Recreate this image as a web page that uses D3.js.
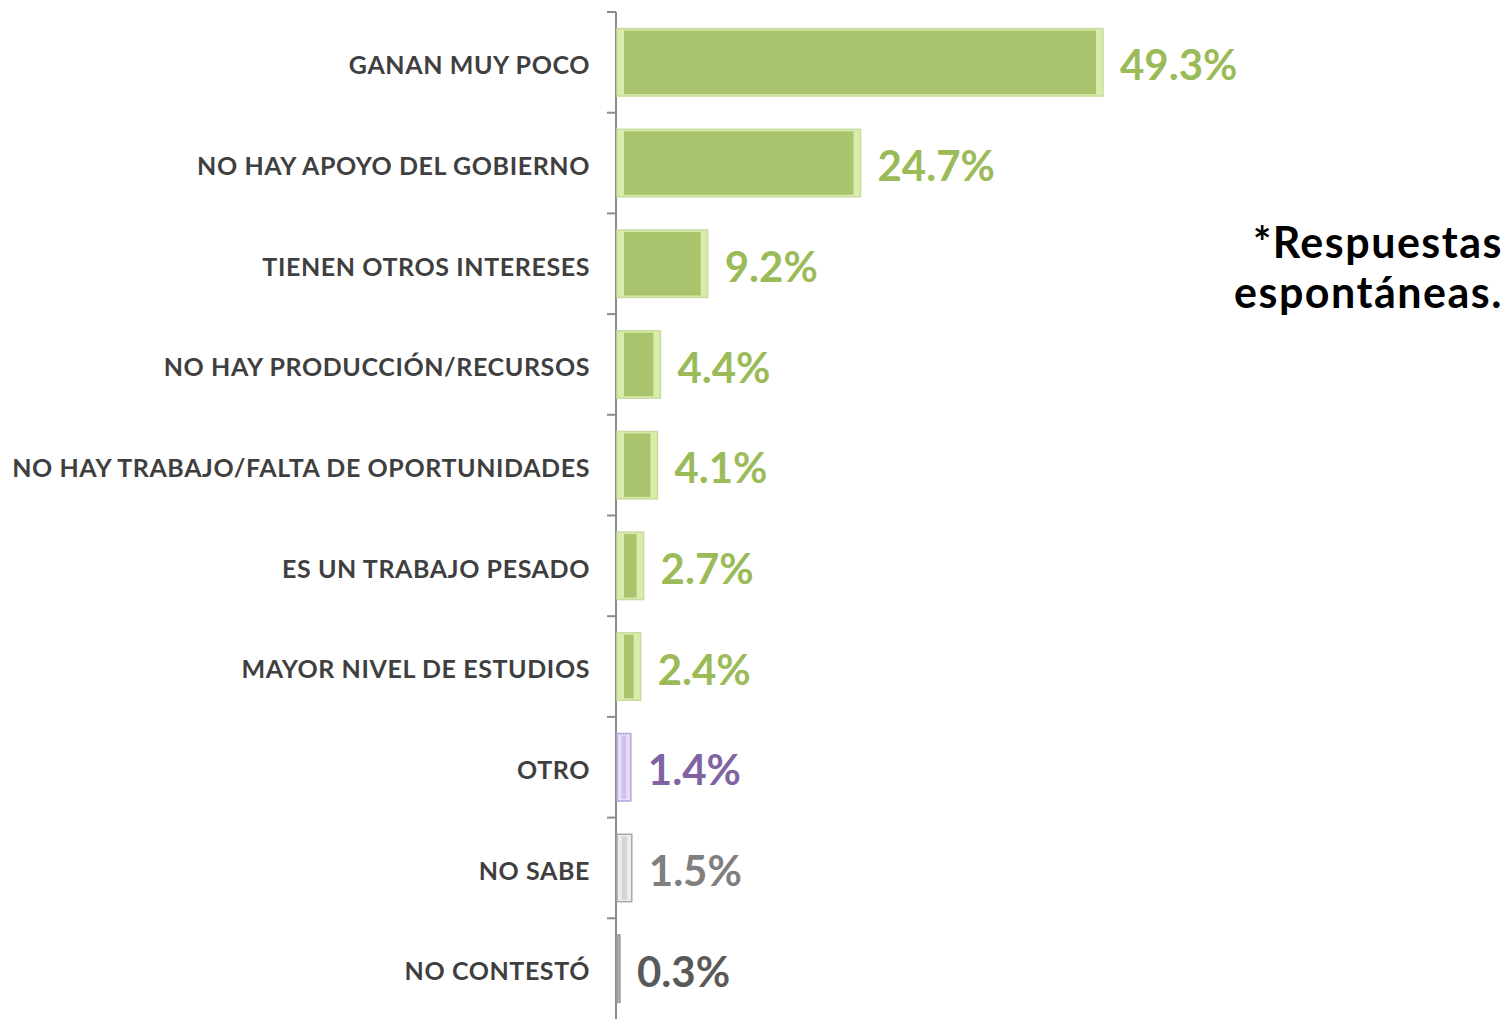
<!DOCTYPE html>
<html>
<head>
<meta charset="utf-8">
<script src="https://cdn.jsdelivr.net/npm/d3@7"></script>
<style>
  body { margin: 0; background: #fff; }
  .cat-label { font-family: Lato, "DejaVu Sans", sans-serif; font-weight: bold; fill: #3f3f3f; }
  .val-label { font-family: Lato, "DejaVu Sans", sans-serif; font-weight: bold; }
</style>
</head>
<body>
<script>
// chart data
var categories = ["GANAN MUY POCO", "NO HAY APOYO DEL GOBIERNO", "TIENEN OTROS INTERESES",
  "NO HAY PRODUCCIÓN/RECURSOS", "NO HAY TRABAJO/FALTA DE OPORTUNIDADES", "ES UN TRABAJO PESADO",
  "MAYOR NIVEL DE ESTUDIOS", "OTRO", "NO SABE", "NO CONTESTÓ"];
var values = [49.3, 24.7, 9.2, 4.4, 4.1, 2.7, 2.4, 1.4, 1.5, 0.3];
var groups = ["verde", "verde", "verde", "verde", "verde", "verde", "verde", "morado", "gris", "oscuro"];

var svgWidth = 1508;
var svgHeight = 1019;
var axisX = 616;

var palette = {
  verde:  { fill: "#a9c46c", edge: "#d9ecaa", stroke: "#c9dba0", text: "#9bbb59" },
  morado: { fill: "#cfc1ee", edge: "#e6ddfa", stroke: "#b6a4d8", text: "#8064a2" },
  gris:   { fill: "#d4d4d4", edge: "#ececec", stroke: "#a8a8a8", text: "#7f7f7f" },
  oscuro: { fill: "#a6a6a6", edge: "#bdbdbd", stroke: "#9a9a9a", text: "#595959" }
};

var svg = d3.select("body")
  .append("svg")
  .attr("width", svgWidth)
  .attr("height", svgHeight);

// scales
var x = d3.scaleLinear().domain([0, 49.3]).range([axisX, 1102]);
var y = d3.scaleBand().domain(categories).range([12, 1019]).paddingInner(0.33).paddingOuter(0.165);

// axis with ticks at band boundaries
var yAxis = svg.append("g");
yAxis.append("line")
  .attr("x1", axisX).attr("x2", axisX)
  .attr("y1", 12).attr("y2", 1019)
  .attr("stroke", "#8c8c8c").attr("stroke-width", 2);
var step = y.step();
yAxis.selectAll("line.tick")
  .data(d3.range(categories.length))
  .enter()
  .append("line")
  .attr("class", "tick")
  .attr("x1", axisX - 9).attr("x2", axisX)
  .attr("y1", i => 12 + i * step).attr("y2", i => 12 + i * step)
  .attr("stroke", "#8c8c8c").attr("stroke-width", 2);

var rows = svg.selectAll("g.row")
  .data(categories.map((c, i) => ({ cat: c, val: values[i], g: groups[i] })))
  .enter()
  .append("g")
  .attr("class", "row");

// bars with bevel look
var bevel = d => Math.min(7, (x(d.val) - axisX) / 3);
rows.append("rect")
  .attr("x", axisX + 1)
  .attr("y", d => y(d.cat))
  .attr("width", d => x(d.val) - axisX)
  .attr("height", y.bandwidth())
  .attr("fill", d => palette[d.g].edge)
  .attr("stroke", d => palette[d.g].stroke)
  .attr("stroke-width", 1.5);
rows.append("rect")
  .attr("x", d => axisX + 1 + bevel(d))
  .attr("y", d => y(d.cat) + 2)
  .attr("width", d => Math.max(0, x(d.val) - axisX - 2 * bevel(d)))
  .attr("height", y.bandwidth() - 4)
  .attr("fill", d => palette[d.g].fill);

// category labels
rows.append("text")
  .attr("class", "cat-label")
  .attr("x", 590)
  .attr("y", d => y(d.cat) + y.bandwidth() / 2 + 3)
  .attr("dy", "0.35em")
  .attr("text-anchor", "end")
  .style("font-size", "25px")
  .style("letter-spacing", "0.6px")
  .text(d => d.cat);

// value labels
rows.append("text")
  .attr("class", "val-label")
  .attr("x", d => x(d.val) + 18)
  .attr("y", d => y(d.cat) + y.bandwidth() / 2 + 3)
  .attr("dy", "0.36em")
  .attr("fill", d => palette[d.g].text)
  .style("font-size", "42px")
  .text(d => d.val.toFixed(1) + "%");

// note
var note = svg.append("text")
  .attr("text-anchor", "end")
  .style("font-family", "Lato, sans-serif")
  .style("font-weight", "bold")
  .style("font-size", "43px")
  .style("letter-spacing", "1.5px")
  .attr("fill", "#000");
note.append("tspan").attr("x", 1503).attr("y", 258).text("*Respuestas");
note.append("tspan").attr("x", 1503).attr("y", 308).text("espontáneas.");
</script>
</body>
</html>
